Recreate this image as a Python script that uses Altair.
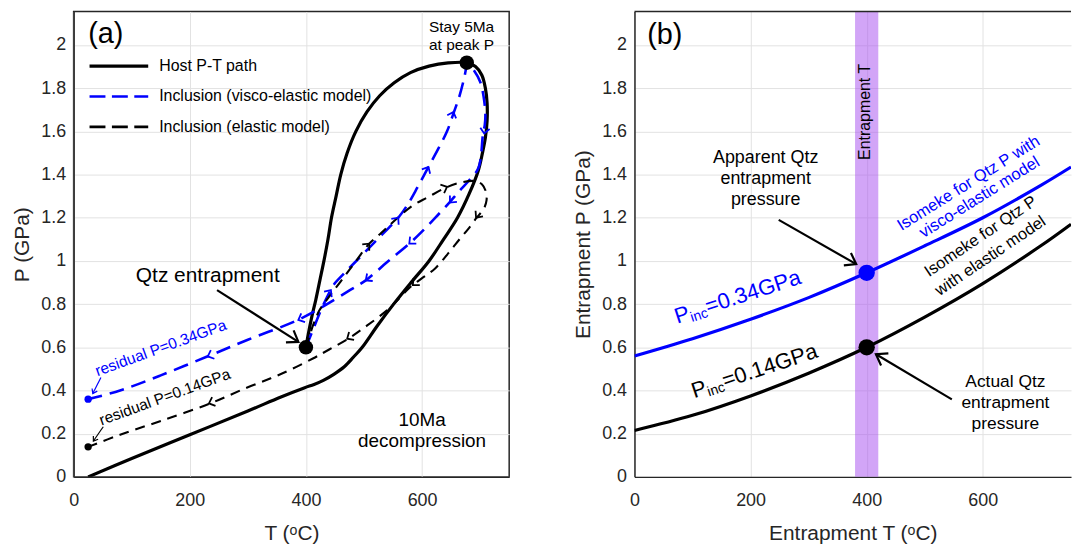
import math
import altair as alt
import numpy as np
import pandas as pd

FONT = "Liberation Sans, Arial, sans-serif"
INK = "#262626"
BLUE = "#0000ff"

# ---------------- panel (a) values ----------------
host_T = [400, 404, 410, 417, 424, 431, 438, 444, 452, 460, 471, 486, 505, 527, 552, 580, 612, 645, 677,
          692, 703, 709, 712, 712, 709, 704, 697, 681, 661, 637, 612, 581, 551, 523, 497, 482, 466,
          448, 430, 414, 398, 357, 300, 200, 100, 25]
host_P = [0.60, 0.66, 0.74, 0.82, 0.91, 1.00, 1.10, 1.20, 1.30, 1.40, 1.50, 1.60, 1.69, 1.765, 1.825, 1.872, 1.902, 1.917, 1.918,
          1.90, 1.86, 1.80, 1.73, 1.65, 1.57, 1.50, 1.42, 1.31, 1.20, 1.10, 1.00, 0.90, 0.80, 0.70, 0.60, 0.555, 0.51,
          0.475, 0.447, 0.428, 0.413, 0.37, 0.305, 0.195, 0.085, 0.0]

visco_T = [400, 412, 424, 436, 448, 465, 485, 505, 525, 545, 559, 575, 592, 611, 628, 643, 655, 664, 671, 675, 677,
           690, 700, 706, 709, 708, 705, 697, 680, 663, 647, 628, 605, 578, 540, 503, 473, 430, 385, 300, 229, 150, 80, 25]
visco_P = [0.60, 0.68, 0.76, 0.83, 0.89, 0.94, 0.995, 1.05, 1.105, 1.16, 1.20, 1.26, 1.34, 1.435, 1.52, 1.60, 1.69, 1.76, 1.83, 1.88, 1.918,
           1.88, 1.83, 1.76, 1.68, 1.63, 1.59, 1.43, 1.37, 1.32, 1.27, 1.215, 1.15, 1.08, 0.995, 0.91, 0.86, 0.79, 0.725, 0.635, 0.556, 0.47, 0.40, 0.36]

elastic_T = [400, 406, 412, 418, 423, 440, 460, 485, 509, 530, 550, 583, 610, 644, 670, 690, 703, 710, 711, 706, 694,
             680, 666, 645, 622, 600, 578, 560, 539, 505, 473, 440, 412, 357, 300, 234, 150, 80, 25]
elastic_P = [0.60, 0.65, 0.70, 0.74, 0.77, 0.835, 0.905, 0.995, 1.08, 1.13, 1.18, 1.255, 1.295, 1.343, 1.365, 1.37, 1.355, 1.32, 1.28, 1.24, 1.20,
             1.15, 1.105, 1.035, 0.964, 0.92, 0.875, 0.825, 0.77, 0.70, 0.64, 0.59, 0.548, 0.476, 0.415, 0.339, 0.259, 0.195, 0.139]

visco_arrow_T = [443, 559, 611, 654, 707, 648, 578, 503, 387, 231]
visco_arrow_P = [0.865, 1.20, 1.435, 1.69, 1.59, 1.27, 1.08, 0.91, 0.727, 0.558]
elastic_arrow_T = [509, 643, 693, 584, 471, 233]
elastic_arrow_P = [1.08, 1.343, 1.20, 0.888, 0.64, 0.34]

big_dot_T = [400, 677]
big_dot_P = [0.60, 1.918]
resid_T = [25, 25]
resid_P = [0.36, 0.139]

legend_labels = ["Host P-T path", "Inclusion (visco-elastic model)", "Inclusion (elastic model)"]

# ---------------- panel (b) values ----------------
iso_T = [0, 100, 200, 300, 400, 500, 600, 700, 752]
iso_visco_P = [0.56, 0.64, 0.73, 0.83, 0.945, 1.07, 1.20, 1.35, 1.435]
iso_elastic_P = [0.215, 0.285, 0.375, 0.48, 0.60, 0.74, 0.895, 1.07, 1.17]
band_T = [380, 420]
entrap_T = 400
apparent_P = 0.945
actual_P = 0.60

x_ticks = [0, 200, 400, 600]
y_ticks = [0, 0.2, 0.4, 0.6, 0.8, 1.0, 1.2, 1.4, 1.6, 1.8, 2.0]

# ---------------- layout ----------------
W_A, W_B, H = 438, 439, 468
XA, XB, YD = [0, 750], [0, 752], [0, 2.155]
SX = W_A / (XA[1] - XA[0])
SY = H / (YD[1] - YD[0])

CHEV_S = "M-1,-0.9L0,0L-1,0.9"
CHEV_L = "M-1,-0.7L0,0L-1,0.7"


def X(dom, title):
    return alt.X("T:Q", scale=alt.Scale(domain=dom, nice=False, zero=False),
                 axis=alt.Axis(values=x_ticks, title=title, format="d", labelPadding=15,
                               titlePadding=13, labelFlush=False))


def Y(title):
    return alt.Y("P:Q", scale=alt.Scale(domain=YD, nice=False, zero=False),
                 axis=alt.Axis(values=y_ticks, title=title, format="~g", labelPadding=8,
                               titlePadding=8, labelFlush=False))


def path(T, P, color, width, xe, ye, dash=None):
    df = pd.DataFrame({"T": T, "P": P, "i": list(range(len(T)))})
    mk = dict(color=color, strokeWidth=width, clip=True, strokeCap="butt",
              interpolate="catmull-rom")
    if dash:
        mk["strokeDash"] = dash
    return alt.Chart(df).mark_line(**mk).encode(x=xe, y=ye, order="i:Q")


def headings(T, P, aT, aP):
    pts = np.column_stack([np.array(T, float) * SX, -np.array(P, float) * SY])
    out = []
    for t, p in zip(aT, aP):
        q = np.array([t * SX, -p * SY])
        i = int(np.argmin(((pts - q) ** 2).sum(1)))
        d = pts[min(i + 1, len(pts) - 1)] - pts[max(i - 1, 0)]
        out.append(math.degrees(math.atan2(d[1], d[0])) % 360)
    return out


def chevrons(T, P, ang, color, size, shape, xe, ye, sw=1.8):
    df = pd.DataFrame({"T": T, "P": P, "ang": ang})
    return alt.Chart(df).mark_point(shape=shape, filled=False, color=color, size=size,
                                    strokeWidth=sw, opacity=1).encode(
        x=xe, y=ye, angle=alt.Angle("ang:Q", scale=None))


def dots(T, P, color, size, xe, ye):
    df = pd.DataFrame({"T": T, "P": P})
    return alt.Chart(df).mark_circle(color=color, size=size, opacity=1).encode(x=xe, y=ye)


def arrow(t0, p0, t1, p1, color, width, head, xe, ye):
    df = pd.DataFrame({"T": [t0], "P": [p0], "T2": [t1], "P2": [p1]})
    rule = alt.Chart(df).mark_rule(color=color, strokeWidth=width).encode(
        x=xe, y=ye, x2="T2:Q", y2="P2:Q")
    ang = math.degrees(math.atan2(-(p1 - p0) * SY, (t1 - t0) * SX)) % 360
    hd = chevrons([t1], [p1], [ang], color, head, CHEV_L, xe, ye, sw=width)
    return [rule, hd]


def label(txt, t, p, xe, ye, size, color="black", angle=0, align="center",
          baseline="middle", line_h=None, dx=0, dy=0):
    df = pd.DataFrame({"T": [t], "P": [p], "txt": [txt]})
    mk = dict(font=FONT, fontSize=size, color=color, align=align, baseline=baseline,
              lineBreak="\n", dx=dx, dy=dy)
    if angle:
        mk["angle"] = angle
    if line_h:
        mk["lineHeight"] = line_h
    return alt.Chart(df).mark_text(**mk).encode(x=xe, y=ye, text="txt:N")


def pinc(value, t, p, color, angle, xe, ye):
    return [
        label("P", t, p, xe, ye, 22, color, angle, "left", "alphabetic"),
        label("inc", t, p, xe, ye, 14, color, angle, "left", "alphabetic", dx=14.7, dy=3),
        label("=" + value, t, p, xe, ye, 22, color, angle, "left", "alphabetic", dx=32.6),
    ]


# ---------------- panel (a) ----------------
xa = X(XA, "T (ᵒC)")
ya = Y("P (GPa)")

layers_a = [
    path(host_T, host_P, "black", 3.2, xa, ya),
    path(visco_T, visco_P, BLUE, 2.6, xa, ya, [15, 8]),
    path(elastic_T, elastic_P, "black", 2.1, xa, ya, [10, 7]),
    chevrons(visco_arrow_T, visco_arrow_P, headings(visco_T, visco_P, visco_arrow_T, visco_arrow_P),
             BLUE, 110, CHEV_S, xa, ya),
    chevrons(elastic_arrow_T, elastic_arrow_P,
             headings(elastic_T, elastic_P, elastic_arrow_T, elastic_arrow_P),
             "black", 110, CHEV_S, xa, ya),
    dots(big_dot_T, big_dot_P, "black", 210, xa, ya),
    dots(resid_T[:1], resid_P[:1], BLUE, 55, xa, ya),
    dots(resid_T[1:], resid_P[1:], "black", 55, xa, ya),
]
layers_a += arrow(247, 0.865, 387, 0.625, "black", 2.2, 420, xa, ya)
layers_a += arrow(47, 0.46, 33, 0.386, BLUE, 1.2, 70, xa, ya)
layers_a += arrow(51, 0.232, 34, 0.166, "black", 1.2, 70, xa, ya)
layers_a += [
    label("(a)", 25, 2.05, xa, ya, 29, align="left"),
    label("Stay 5Ma\nat peak P", 668, 2.081, xa, ya, 15.5, line_h=18),
    label("Qtz entrapment", 231, 0.93, xa, ya, 21),
    label("10Ma\ndecompression", 600, 0.262, xa, ya, 19, line_h=20.5),
    label("residual P=0.34GPa", 153, 0.575, xa, ya, 15.5, BLUE, 340, baseline="alphabetic"),
    label("residual P=0.14GPa", 160, 0.348, xa, ya, 15.5, "black", 340, baseline="alphabetic"),
]
legend_styles = [("black", 3.2, None), (BLUE, 2.6, [16, 6.5]), ("black", 2.6, [16, 6.5])]
for k, (lab, (col, sw, dash)) in enumerate(zip(legend_labels, legend_styles)):
    yy = 55 + 30.5 * k
    one = pd.DataFrame({"lab": [lab]})
    mk = dict(color=col, strokeWidth=sw, strokeCap="butt")
    if dash:
        mk["strokeDash"] = dash
    layers_a.append(alt.Chart(one).mark_rule(**mk).encode(
        x=alt.value(16), x2=alt.value(75), y=alt.value(yy)))
    layers_a.append(alt.Chart(one).mark_text(font=FONT, fontSize=16, align="left",
                                              baseline="middle", color="black").encode(
        x=alt.value(86), y=alt.value(yy), text="lab:N"))

panel_a = alt.layer(*layers_a).properties(
    width=W_A, height=H, view=alt.ViewBackground(stroke=INK, strokeWidth=1.5))

# ---------------- panel (b) ----------------
xb = X(XB, "Entrapment T (ᵒC)")
yb = Y("Entrapment P (GPa)")

band = alt.Chart(pd.DataFrame({"T": [band_T[0]], "T2": [band_T[1]]})).mark_rect(
    color="#a64cf0", opacity=0.5).encode(x=xb, x2="T2:Q", y=alt.value(0), y2=alt.value(H))

layers_b = [
    band,
    path(iso_T, iso_visco_P, BLUE, 3.2, xb, yb),
    path(iso_T, iso_elastic_P, "black", 3.2, xb, yb),
    dots([entrap_T], [apparent_P], BLUE, 270, xb, yb),
    dots([entrap_T], [actual_P], "black", 270, xb, yb),
]
layers_b += arrow(248.5, 1.19, 382, 0.985, "black", 2.2, 420, xb, yb)
layers_b += arrow(546.7, 0.359, 416, 0.568, "black", 2.2, 420, xb, yb)
layers_b += [
    label("(b)", 22, 2.045, xb, yb, 29, align="left"),
    label("Entrapment T", 398, 1.69, xb, yb, 16, angle=270),
    label("Apparent Qtz\nentrapment\npressure", 226, 1.478, xb, yb, 18, line_h=21.5),
    label("Actual Qtz\nentrapment\npressure", 639, 0.437, xb, yb, 17.5, line_h=21),
    label("Isomeke for Qtz P with", 580, 1.340, xb, yb, 16.5, BLUE, 328, baseline="alphabetic"),
    label("visco-elastic model", 599, 1.275, xb, yb, 16.5, BLUE, 328, baseline="alphabetic"),
    label("Isomeke for Qtz P", 601, 1.094, xb, yb, 16.5, "black", 326, baseline="alphabetic"),
    label("with elastic model", 618, 1.004, xb, yb, 16.5, "black", 326, baseline="alphabetic"),
]
layers_b += pinc("0.34GPa", 73.7, 0.709, BLUE, 342, xb, yb)
layers_b += pinc("0.14GPa", 102.8, 0.364, "black", 341.7, xb, yb)
layers_b.append(alt.Chart(pd.DataFrame({"k": [0]})).mark_rule(color=INK, strokeWidth=1.5).encode(
    x=alt.value(0), x2=alt.value(W_B), y=alt.value(0)))

panel_b = alt.layer(*layers_b).properties(
    width=W_B, height=H, view=alt.ViewBackground(stroke="transparent"))

chart = alt.hconcat(panel_a, panel_b, spacing=62).properties(
    padding={"left": 3, "top": 0, "right": 0, "bottom": 0}
).configure_axis(
    grid=True, gridColor="#e2e2e2", gridWidth=1, domainColor=INK, domainWidth=1.5,
    ticks=False, labelFont=FONT, labelFontSize=18, labelColor=INK,
    titleFont=FONT, titleFontSize=21, titleFontWeight="normal", titleColor=INK,
).configure_view(stroke=INK, strokeWidth=1.5)

chart.save("out.html", embed_options={"renderer": "svg", "actions": False})
